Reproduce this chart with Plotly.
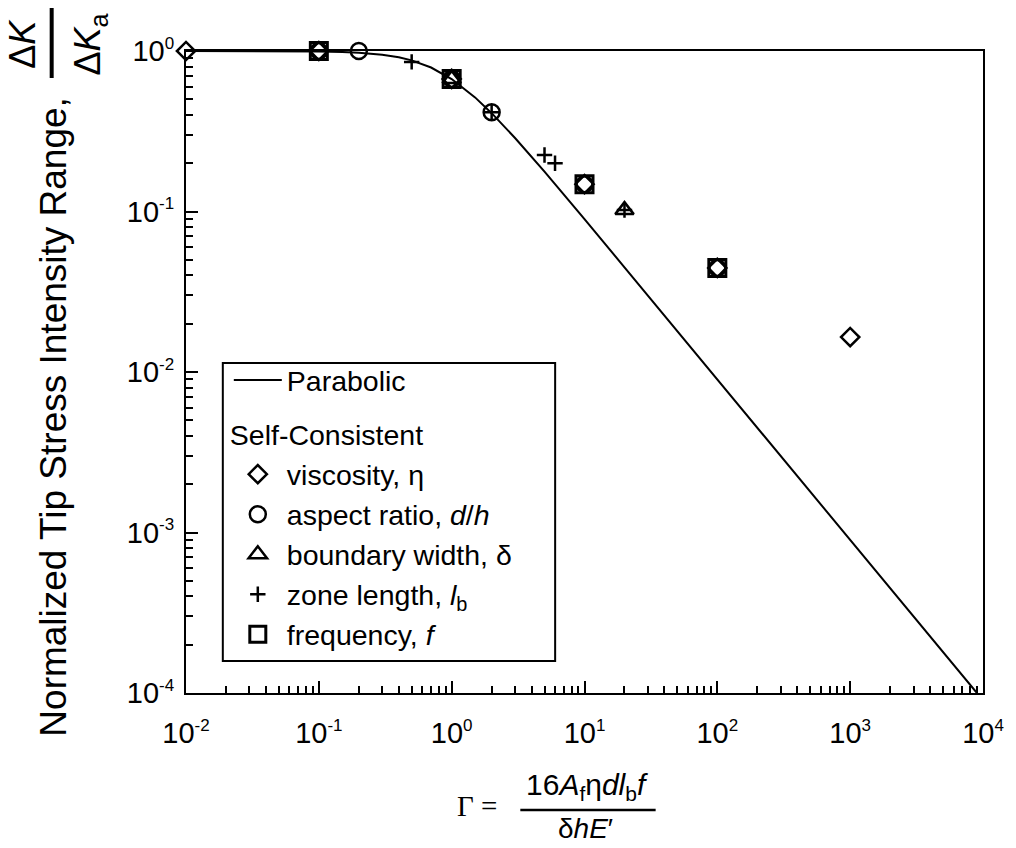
import plotly.graph_objects as go

# ---------------- data ----------------
gamma_curve = [0.01, 0.03, 0.1, 0.15, 0.2, 0.3, 0.4, 0.5, 0.7, 1.0, 1.5, 2.0, 3.0,
               5.0, 7.0, 10.0, 20.0, 50.0, 100.0, 300.0, 1000.0, 3000.0, 9000.0]
k_curve = [1.0, 0.9994, 0.994, 0.986, 0.976, 0.949, 0.914, 0.874, 0.789, 0.669, 0.514,
           0.410, 0.287, 0.177, 0.1275, 0.0896, 0.0449, 0.018, 0.009, 0.003, 0.0009,
           0.0003, 0.0001]

visc_gamma = [0.01, 0.1, 1.0, 10.0, 100.0, 1000.0]
visc_k = [1.0, 1.0, 0.67, 0.148, 0.0445, 0.0165]

aspect_gamma = [0.1, 0.2, 1.0, 2.0, 10.0, 100.0]
aspect_k = [1.0, 1.0, 0.67, 0.415, 0.148, 0.0445]

bw_gamma = [1.0, 20.0]
bw_k = [0.67, 0.102]

zone_gamma = [0.5, 2.0, 5.0, 6.0, 20.0]
zone_k = [0.855, 0.415, 0.225, 0.200, 0.102]

freq_gamma = [0.1, 1.0, 10.0, 100.0]
freq_k = [1.0, 0.67, 0.148, 0.0445]

x_tick_vals = [0.01, 0.1, 1, 10, 100, 1000, 10000]
x_tick_exp = ["-2", "-1", "0", "1", "2", "3", "4"]
y_tick_vals = [0.0001, 0.001, 0.01, 0.1, 1]
y_tick_exp = ["-4", "-3", "-2", "-1", "0"]

# ---------------- layout helpers ----------------
W, H = 1016, 848
L, R, T, B = 186, 987, 51, 693
FONT = "Liberation Sans, Arial, Helvetica, sans-serif"
SERIF = "Liberation Serif, Times New Roman, serif"


def px2x(px):
    return (px - L) / (R - L)


def px2y(py):
    return (B - py) / (B - T)


def tick_text(exps):
    return ["10<sup><span style='font-size:17px'>%s</span></sup>" % e for e in exps]


def minor_ticks(decades):
    out = []
    for d in decades[:-1]:
        for m in range(2, 10):
            out.append(m * d)
    return out


fig = go.Figure()

fig.add_trace(go.Scatter(
    x=gamma_curve, y=k_curve, mode="lines", name="Parabolic",
    line=dict(color="black", width=2), legendgroup="p", cliponaxis=False))

LEG_FONT = dict(size=28.5, family=FONT, color="black")

series = [
    (visc_gamma, visc_k, "diamond-open", 14, 2.5, "viscosity, η"),
    (aspect_gamma, aspect_k, "circle-open", 16, 2.5, "aspect ratio, <i>d</i>/<i>h</i>"),
    (bw_gamma, bw_k, "triangle-up-open", 16, 2.5, "boundary width, δ"),
    (zone_gamma, zone_k, "cross-thin-open", 11, 2.5, "zone length, <i>l</i><sub>b</sub>"),
    (freq_gamma, freq_k, "square-open", 17, 3, "frequency, <i>f</i>"),
]
for i, (gx, gy, sym, sz, lw, nm) in enumerate(series):
    fig.add_trace(go.Scatter(
        x=gx, y=gy, mode="markers", name=nm, legendgroup="sc",
        legendgrouptitle=dict(text="Self-Consistent", font=LEG_FONT) if i == 0 else None,
        marker=dict(symbol=sym, size=sz, color="black",
                    line=dict(color="black", width=lw)),
        cliponaxis=False))

axis_common = dict(
    type="log", showgrid=False, zeroline=False,
    showline=True, linecolor="black", linewidth=2, mirror=True,
    ticks="inside", ticklen=12, tickwidth=2, tickcolor="black",
    tickfont=dict(size=29, family=FONT, color="black"),
)

fig.update_xaxes(range=[-2, 4], tickvals=x_tick_vals, ticktext=tick_text(x_tick_exp),
                 ticklabelstandoff=13,
                 minor=dict(tickvals=minor_ticks(x_tick_vals), ticks="inside", ticklen=7,
                            tickwidth=1.5, tickcolor="black", showgrid=False),
                 **axis_common)
fig.update_yaxes(range=[-4, 0], tickvals=y_tick_vals, ticktext=tick_text(y_tick_exp),
                 ticklabelstandoff=4,
                 minor=dict(tickvals=minor_ticks(y_tick_vals), ticks="inside", ticklen=7,
                            tickwidth=1.5, tickcolor="black", showgrid=False),
                 **axis_common)

annotations = [
    # y axis title
    dict(x=px2x(53), y=px2y(417), xref="paper", yref="paper", textangle=-90,
         text="Normalized Tip Stress Intensity Range,", showarrow=False,
         font=dict(size=37, family=FONT, color="black"), xanchor="center", yanchor="middle"),
    dict(x=px2x(22), y=px2y(44), xref="paper", yref="paper", textangle=-90,
         text="Δ<i>K</i>", showarrow=False,
         font=dict(size=36, family=FONT, color="black"), xanchor="center", yanchor="middle"),
    dict(x=px2x(90), y=px2y(44), xref="paper", yref="paper", textangle=-90,
         text="Δ<i>K</i><sub>a</sub>", showarrow=False,
         font=dict(size=36, family=FONT, color="black"), xanchor="center", yanchor="middle"),
    # x axis title
    dict(x=px2x(478), y=px2y(806), xref="paper", yref="paper",
         text="Γ =", showarrow=False,
         font=dict(size=29, family=SERIF, color="black"), xanchor="center", yanchor="middle"),
    dict(x=px2x(589), y=px2y(787), xref="paper", yref="paper",
         text="16<i>A</i><sub>f</sub>η<i>dl</i><sub>b</sub><i>f</i>", showarrow=False,
         font=dict(size=30, family=FONT, color="black"), xanchor="center", yanchor="middle"),
    dict(x=px2x(588), y=px2y(828), xref="paper", yref="paper",
         text="δ<i>hE</i>′", showarrow=False,
         font=dict(size=28, family=FONT, color="black"), xanchor="center", yanchor="middle"),
]

shapes = [
    # legend frame
    dict(type="rect", xref="paper", yref="paper", layer="above",
         x0=px2x(223), x1=px2x(557), y0=px2y(661), y1=px2y(363),
         line=dict(color="black", width=2), fillcolor="white"),
    # fraction bars
    dict(type="line", xref="paper", yref="paper", x0=px2x(51), x1=px2x(51),
         y0=px2y(8), y1=px2y(78), line=dict(color="black", width=4)),
    dict(type="line", xref="paper", yref="paper", x0=px2x(522), x1=px2x(658),
         y0=px2y(810), y1=px2y(810), line=dict(color="black", width=2.5)),
]

fig.update_layout(
    width=W, height=H,
    margin=dict(l=L, r=W - R, t=T, b=H - B, pad=0),
    plot_bgcolor="white", paper_bgcolor="white",
    font=dict(family=FONT, color="black"),
    annotations=annotations, shapes=shapes,
    legend=dict(x=px2x(225), y=px2y(355), xanchor="left", yanchor="top",
                borderwidth=0, bgcolor="rgba(0,0,0,0)",
                font=LEG_FONT,
                tracegroupgap=14, traceorder="grouped", itemwidth=48,
                indentation=4),
    showlegend=True,
)

fig.write_html("out.html")
